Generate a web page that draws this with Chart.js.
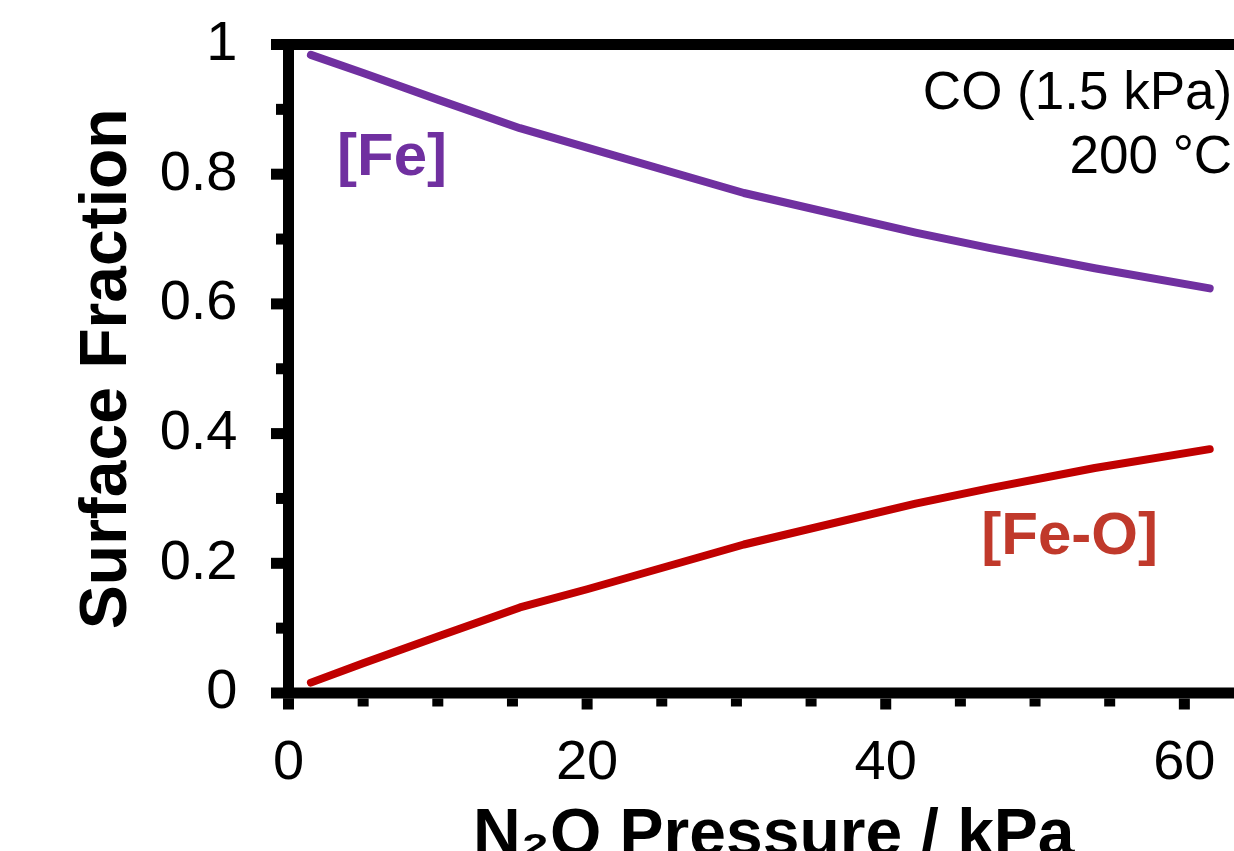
<!DOCTYPE html>
<html>
<head>
<meta charset="utf-8">
<script src="https://cdn.jsdelivr.net/npm/chart.js@4.4.0/dist/chart.umd.min.js"></script>
<style>
  html, body { margin: 0; padding: 0; background: #fff; overflow: hidden; }
  #surfChart { position: absolute; left: 0; top: 0; }
</style>
</head>
<body>
<canvas id="surfChart" width="1300" height="900"></canvas>
<script>
// N2O pressure (kPa) and surface fractions
const pressure = [1.5, 5, 10, 15.5, 20, 30.5, 42, 47, 54, 61.7];
const fracFe = [0.984, 0.956, 0.915, 0.871, 0.841, 0.771, 0.710, 0.686, 0.655, 0.624];
const fracFeO = [0.016, 0.046, 0.087, 0.132, 0.160, 0.229, 0.292, 0.316, 0.347, 0.376];

const xTickValues = [0, 20, 40, 60];
const yTickValues = [0, 0.2, 0.4, 0.6, 0.8, 1];

const FONT = "'Liberation Sans', Arial, sans-serif";
const PURPLE = '#7030A0';
const RED = '#C00000';

Chart.defaults.font.family = FONT;
Chart.defaults.color = '#000';

// thick box, outward ticks and the text labels inside the plot
const frame = {
    id: 'frame',
    afterDraw(chart) {
        const { ctx, chartArea: a, scales: { x, y } } = chart;
        const w = 11, h = w / 2;
        ctx.save();
        ctx.fillStyle = '#000';
        ctx.fillRect(a.left - h, a.top - h, a.right - a.left + w, w);
        ctx.fillRect(a.left - h, a.bottom - h, a.right - a.left + w, w);
        ctx.fillRect(a.left - h, a.top - h, w, a.bottom - a.top + w);
        ctx.fillRect(a.right - h, a.top - h, w, a.bottom - a.top + w);
        for (let i = 0; i <= 10; i++) {
            const py = y.getPixelForValue(i / 10);
            const len = i % 2 === 0 ? 12 : 7;
            ctx.fillRect(a.left - h - len, py - h, len, w);
        }
        for (let v = 0; v <= 60; v += 5) {
            const px = x.getPixelForValue(v);
            const len = v % 20 === 0 ? 11 : 8;
            ctx.fillRect(px - h, a.bottom + h, w, len);
        }

        ctx.textBaseline = 'alphabetic';
        ctx.font = 'bold 60px ' + FONT;
        ctx.textAlign = 'left';
        ctx.fillStyle = PURPLE;
        ctx.fillText('[Fe]', x.getPixelForValue(3.25), y.getPixelForValue(0.799));
        ctx.fillStyle = '#C0392B';
        ctx.fillText('[Fe-O]', x.getPixelForValue(46.4), y.getPixelForValue(0.214));

        ctx.font = '53px ' + FONT;
        ctx.textAlign = 'right';
        ctx.fillStyle = '#000';
        ctx.fillText('CO (1.5 kPa)', x.getPixelForValue(63.2), y.getPixelForValue(0.9005));
        ctx.fillText('200 °C', x.getPixelForValue(63.2), y.getPixelForValue(0.802));
        ctx.restore();
    }
};

const ctx = document.getElementById('surfChart').getContext('2d');
const surfChart = new Chart(ctx, {
    type: 'line',
    data: {
        datasets: [{
            label: '[Fe]',
            data: pressure.map((p, i) => ({ x: p, y: fracFe[i] })),
            borderColor: PURPLE,
            borderWidth: 8,
            borderCapStyle: 'round',
            borderJoinStyle: 'round',
            pointRadius: 0,
            tension: 0,
            fill: false
        }, {
            label: '[Fe-O]',
            data: pressure.map((p, i) => ({ x: p, y: fracFeO[i] })),
            borderColor: RED,
            borderWidth: 8,
            borderCapStyle: 'round',
            borderJoinStyle: 'round',
            pointRadius: 0,
            tension: 0,
            fill: false
        }]
    },
    options: {
        responsive: false,
        animation: false,
        devicePixelRatio: 1,
        layout: { padding: { left: 0, top: 44.5, right: 41, bottom: 0 } },
        plugins: {
            legend: { display: false },
            tooltip: { enabled: false }
        },
        scales: {
            x: {
                type: 'linear',
                min: 0,
                max: 65,
                afterFit: s => { s.height = 207; s.paddingLeft = 0; s.paddingRight = 0; },
                afterBuildTicks: s => { s.ticks = xTickValues.map(v => ({ value: v })); },
                grid: { display: false, drawTicks: false },
                border: { display: false },
                ticks: {
                    autoSkip: false,
                    maxRotation: 0,
                    padding: 37,
                    font: { size: 56 },
                    callback: v => String(v)
                },
                title: {
                    display: true,
                    text: 'N₂O Pressure / kPa',
                    font: { size: 66, weight: 'bold' },
                    padding: { top: 0, bottom: 24 }
                }
            },
            y: {
                min: 0,
                max: 1,
                afterFit: s => { s.width = 288.5; s.paddingTop = 0; s.paddingBottom = 0; },
                afterBuildTicks: s => { s.ticks = yTickValues.map(v => ({ value: v })); },
                grid: { display: false, drawTicks: false },
                border: { display: false },
                ticks: {
                    padding: 51,
                    font: { size: 56 },
                    callback: v => String(v)
                },
                title: {
                    display: true,
                    text: 'Surface Fraction',
                    font: { size: 66, weight: 'bold' },
                    padding: { top: 68, bottom: 0 }
                }
            }
        }
    },
    plugins: [frame]
});
</script>
</body>
</html>
